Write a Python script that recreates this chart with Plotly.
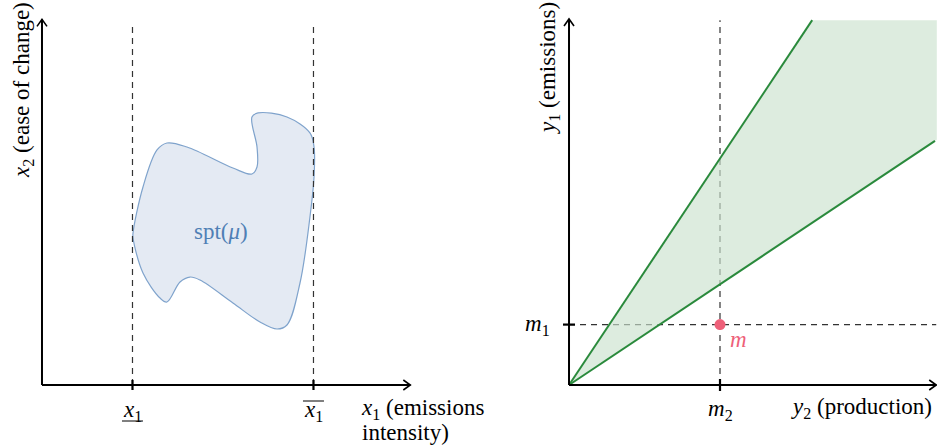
import plotly.graph_objects as go

# ---------------- data ----------------
# left panel: support of mu in (x1 emissions intensity, x2 ease of change)
x1_bounds = [1.0, 3.0]            # lower / upper x1
left_axis_max = [4.07, 4.04]      # axis extents (x1, x2)
left_dash_top = 4.0
blob_x = [1.006, 1.116, 1.271, 1.381, 1.602, 2.110, 2.320, 2.376, 2.376, 2.320,
          2.387, 2.707, 2.961, 3.006, 3.006, 2.961, 2.851, 2.707, 2.597, 2.409,
          2.110, 1.746, 1.635, 1.525, 1.381, 1.304, 1.116, 1.006, 1.006]
blob_y = [1.680, 2.188, 2.597, 2.674, 2.630, 2.398, 2.331, 2.409, 2.630, 2.961,
          3.006, 2.961, 2.785, 2.630, 2.298, 1.856, 1.127, 0.663, 0.619, 0.696,
          0.906, 1.160, 1.193, 1.138, 0.917, 0.961, 1.238, 1.624, 1.680]

# right panel: (y2 production, y1 emissions)
m_point = [2.5, 1.0]              # (m2, m1)
slopes = [1.5, 0.667]             # steep / shallow cone edges
right_axis_max = [6.08, 6.06]
right_top = 6.04
right_fill_right = 6.09

FONT = "Liberation Serif"
FS = 23

fig = go.Figure()

L = dict(xaxis="x", yaxis="y")
R = dict(xaxis="x2", yaxis="y2")

# per-panel pixel scale (px per data unit)
SL = 90.5
SR = 60.4

def seg(xs, ys, ax, color="black", width=2.0, dash=None):
    fig.add_trace(go.Scatter(x=xs, y=ys, mode="lines",
                             line=dict(color=color, width=width, dash=dash),
                             hoverinfo="skip", **ax))

def arrow(tip, direction, scale, ax):
    a = 7 / scale
    b = 5 / scale
    tx, ty = tip
    if direction == "right":
        seg([tx - a, tx, tx - a], [ty + b, ty, ty - b], ax, width=1.6)
    else:
        seg([tx - b, tx, tx + b], [ty - a, ty, ty - a], ax, width=1.6)

# ---------- left panel ----------
fig.add_trace(go.Scatter(x=blob_x, y=blob_y, mode="lines", fill="toself",
                         line=dict(color="#7fa3cc", width=1.2, shape="spline", smoothing=1.0),
                         fillcolor="#e4eaf3", hoverinfo="skip", **L))
for xb in x1_bounds:
    seg([xb, xb], [0, left_dash_top], L, color="#333333", width=1.2, dash="6px,5px")
    t = 5 / SL
    seg([xb, xb], [-t, t], L, width=2.2)
seg([0, left_axis_max[0]], [0, 0], L)
seg([0, 0], [0, left_axis_max[1]], L)
arrow((left_axis_max[0], 0), "right", SL, L)
arrow((0, left_axis_max[1]), "up", SL, L)
# under-/overline bars for the bound labels
bar_h = 10.5 / SL
seg([x1_bounds[0] - bar_h, x1_bounds[0] + bar_h], [-36 / SL] * 2, L, width=1)
seg([x1_bounds[1] - bar_h, x1_bounds[1] + bar_h], [-16 / SL] * 2, L, width=1)

# ---------- right panel ----------
m2, m1 = m_point
seg([m2, m2], [0, right_top], R, color="#333333", width=1.2, dash="6px,5px")
seg([0, right_axis_max[0]], [m1, m1], R, color="#333333", width=1.2, dash="6px,5px")
x_top = right_top / slopes[0]
fig.add_trace(go.Scatter(
    x=[0, x_top, right_fill_right, right_fill_right, 0],
    y=[0, right_top, right_top, right_fill_right * slopes[1], 0],
    mode="none", fill="toself", fillcolor="rgba(203,226,206,0.65)",
    hoverinfo="skip", **R))
seg([0, x_top], [0, right_top], R, color="#2a8a3c", width=2)
x_low = right_axis_max[0] - 0.02
seg([0, x_low], [0, x_low * slopes[1]], R, color="#2a8a3c", width=2)
t = 6 / SR
seg([m2, m2], [-t, t], R, width=2.2)
seg([-t, t], [m1, m1], R, width=2.2)
seg([0, right_axis_max[0]], [0, 0], R)
seg([0, 0], [0, right_axis_max[1]], R)
arrow((right_axis_max[0], 0), "right", SR, R)
arrow((0, right_axis_max[1]), "up", SR, R)
fig.add_trace(go.Scatter(x=[m2], y=[m1], mode="markers",
                         marker=dict(color="#ee6079", size=11), hoverinfo="skip", **R))

# ---------- annotations ----------
font = dict(family=FONT, size=FS, color="black")
ann = []
def A(text, x, y, xref, yref, **kw):
    d = dict(text=text, x=x, y=y, xref=xref, yref=yref, showarrow=False, font=font)
    d.update(kw)
    ann.append(d)

A("<i>x</i><sub>1</sub>", x1_bounds[0], 0, "x", "y", yshift=-26)
A("<i>x</i><sub>1</sub>", x1_bounds[1], 0, "x", "y", yshift=-26)
A("<i>x</i><sub>1</sub> (emissions", x1_bounds[1], 0, "x", "y",
  xanchor="left", xshift=46, yshift=-24)
A("intensity)", x1_bounds[1], 0, "x", "y",
  xanchor="left", xshift=47, yshift=-47)
A("<i>x</i><sub>2</sub> (ease of change)", 0, 3.26, "x", "y", textangle=-90, xshift=-19)
A("spt(<i>μ</i>)", 1.98, 1.70, "x", "y", font=dict(family=FONT, size=FS, color="#4f7fb5"))

A("<i>m</i><sub>2</sub>", m2, 0, "x2", "y2", yshift=-25)
A("<i>y</i><sub>2</sub> (production)", right_axis_max[0], 0, "x2", "y2",
  xanchor="right", yshift=-23, xshift=-2)
A("<i>m</i><sub>1</sub>", 0, m1, "x2", "y2", xanchor="right", xshift=-17)
A("<i>m</i>", m2, m1, "x2", "y2", xshift=18, yshift=-15,
  font=dict(family=FONT, size=FS, color="#ee6079"))
A("<i>y</i><sub>1</sub> (emissions)", 0, 5.25, "x2", "y2", textangle=-90, xshift=-20)

fig.update_layout(
    width=937, height=446,
    margin=dict(l=0, r=0, t=0, b=0),
    paper_bgcolor="white", plot_bgcolor="white",
    showlegend=False,
    annotations=ann,
    xaxis=dict(domain=[0, 460 / 937], range=[-0.464, 4.619], visible=False),
    yaxis=dict(domain=[0, 1], range=[-0.674, 4.254], visible=False),
    xaxis2=dict(domain=[460 / 937, 1], range=[-1.805, 6.093], visible=False),
    yaxis2=dict(domain=[0, 1], range=[-1.010, 6.374], visible=False),
)

fig.write_html("out.html", config={"displayModeBar": False},
               post_script="document.body.style.margin='0';document.body.style.overflow='hidden';")
